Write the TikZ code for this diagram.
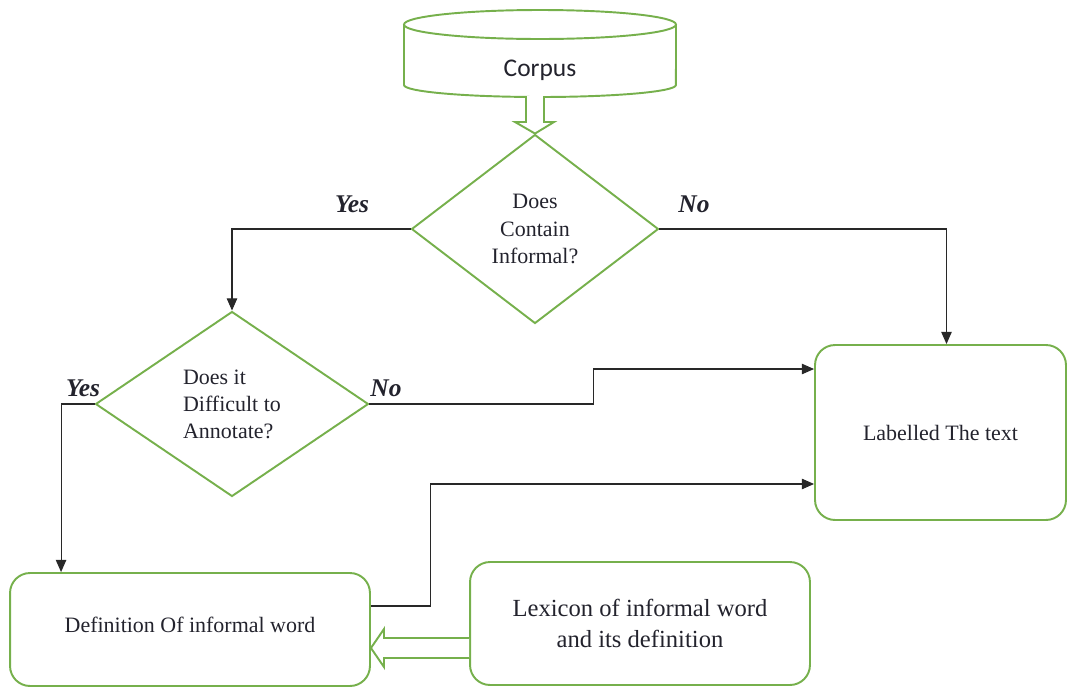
\documentclass[tikz,border=0pt]{standalone}
\usepackage{fontspec}
\setmainfont{Liberation Serif}
\newfontfamily\calibri{Carlito}
\usetikzlibrary{shapes.geometric,arrows.meta,calc}

\definecolor{boxgreen}{RGB}{118,176,76}
\definecolor{txt}{RGB}{35,35,45}
\definecolor{linegray}{RGB}{40,40,40}

\tikzset{
    flowbox/.style={draw=boxgreen, line width=1.1pt, rounded corners=0.4cm,
        align=center, text=txt, font=\fontsize{12.5}{15.4}\selectfont},
    decision/.style={diamond, draw=boxgreen, line width=1.1pt, inner sep=0pt,
        text=txt, font=\fontsize{12.5}{15.4}\selectfont},
    link/.style={draw=linegray, line width=0.6pt, -{Triangle[length=7pt,width=6pt]}},
    hollow/.style={draw=boxgreen, line width=1.1pt, fill=white, line join=miter},
    answer/.style={text=txt, font=\fontsize{14.5}{16}\selectfont\bfseries\itshape},
}

\begin{document}
\begin{tikzpicture}[x=0.02cm, y=-0.02cm]

    \useasboundingbox (0,0) rectangle (1069,687);

    % corpus cylinder
    \draw[boxgreen, line width=1.1pt, fill=white]
    (404,24)
    -- (404,85)
    arc[start angle=180, end angle=360, x radius=2.72cm, y radius=0.24cm]
    -- (676,24);
    \draw[boxgreen, line width=1.1pt] (540,24.5) ellipse[x radius=2.72cm, y radius=0.29cm];
    \node[text=txt, font=\calibri\fontsize{14.5}{16}\selectfont] (corpus) at (540,70) {Corpus};

    % decisions
    \node[decision, minimum width=4.94cm, minimum height=3.78cm, align=center]
        (d1) at (535,229) {Does\\Contain\\Informal?};
    \node[decision, minimum width=5.46cm, minimum height=3.7cm, align=left]
        (d2) at (232,404) {Does it\\Difficult to\\Annotate?};

    % boxes
    \node[flowbox, minimum width=5.02cm, minimum height=3.5cm]
        (lab) at (940.5,432.5) {Labelled The text};
    \node[flowbox, minimum width=7.2cm, minimum height=2.26cm, text depth=0.2cm]
        (def) at (190,629.5) {Definition Of informal word};
    \node[flowbox, minimum width=6.8cm, minimum height=2.46cm,
        font=\fontsize{14}{17.6}\selectfont]
        (lex) at (640,623.5) {Lexicon of informal word\\and its definition};

    % hollow arrows
    \draw[hollow]
    (526,96)
    -- (526,122)
    -- (515,122)
    -- (d1.north)
    -- (554,122)
    -- (544,122)
    -- (544,96);
    \draw[hollow]
    (lex.west |- 0,638)
    -- (384,638)
    -- (384,629)
    -- (def.east |- 0,648)
    -- (384,667)
    -- (384,658)
    -- (lex.west |- 0,658);

    % connectors
    \draw[link] (d1.west) -| (d2.north);
    \draw[link] (d1.east) -| ([xshift=0.12cm]lab.north);
    \draw[link] (d2.west) -| ([xshift=1.04cm]def.north west);
    \draw[link] (d2.east) -- ++(224,0) |- ([yshift=1.27cm]lab.west);
    \draw[link] ([yshift=0.47cm]def.east) -- ++(60,0) |- ([yshift=-1.03cm]lab.west);

    % answers
    \node[answer] (y1) at (352,204) {Yes};
    \node[answer] (n1) at (694,204) {No};
    \node[answer] (y2) at (83,388) {Yes};
    \node[answer] (n2) at (386,388) {No};

\end{tikzpicture}
\end{document}
